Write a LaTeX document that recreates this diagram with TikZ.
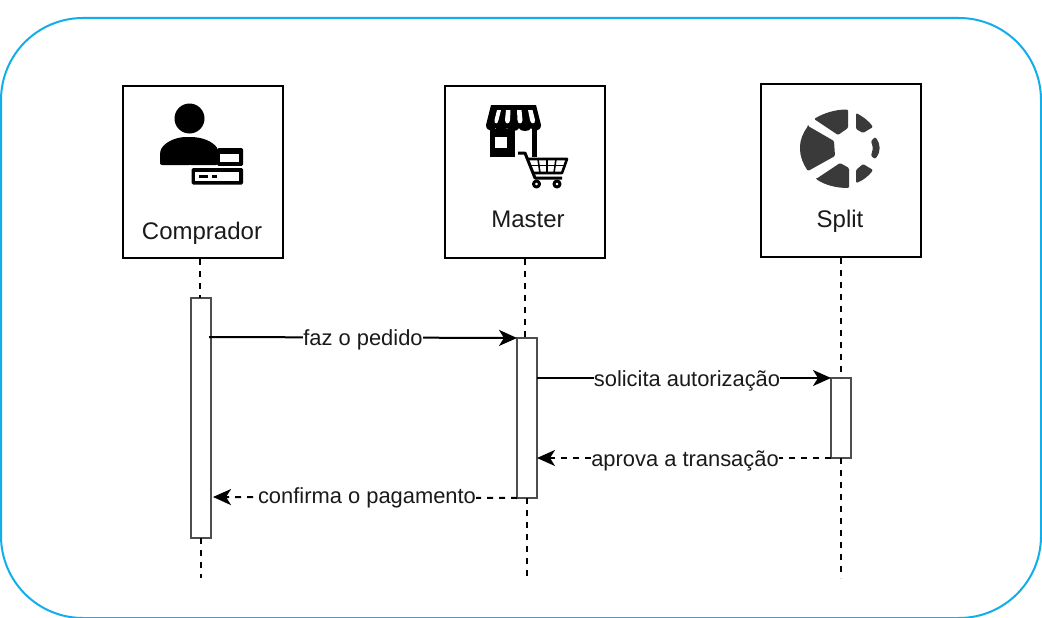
\documentclass[tikz,border=0pt]{standalone}
\usepackage{fontspec}
\setmainfont{Liberation Sans}
\usetikzlibrary{arrows.meta}
\definecolor{frameblue}{HTML}{12AEEA}
\definecolor{txt}{HTML}{1A1A1A}
\definecolor{logo}{HTML}{3A3A3A}
\definecolor{bargrey}{HTML}{4D4D4D}
\tikzset{
  actor/.style={draw=black,line width=2pt,fill=white,minimum width=160pt,inner sep=0pt,outer sep=0pt},
  actorlabel/.style={font=\fontsize{24}{24}\selectfont,text=txt,inner sep=0pt,anchor=base},
  bar/.style={draw=bargrey,line width=2pt,fill=white,minimum width=20pt,inner sep=0pt,outer sep=0pt},
  lifeline/.style={line width=2pt,dash pattern=on 6pt off 6pt},
  msg/.style={line width=2pt,-{Stealth[length=18pt,width=16pt,inset=5pt]}},
  reply/.style={msg,dash pattern=on 6pt off 6pt},
  msglabel/.style={font=\fontsize{21.9}{22}\selectfont,text=txt,fill=white,inner xsep=0pt,inner ysep=0pt,text height=16pt,text depth=4pt}
}
\begin{document}
\begin{tikzpicture}[x=1pt,y=-1pt]
\useasboundingbox (0,0) rectangle (1042,618);
\fill[white] (0,0) rectangle (1042,618);
\draw[frameblue,line width=2pt,rounded corners=82pt] (1,18) rectangle (1041,618);

% actors
\node[actor,minimum height=172pt,anchor=north west] (comprador) at (123,86) {};
\node[actor,minimum height=172pt,anchor=north west] (master) at (445,86) {};
\node[actor,minimum height=172pt,anchor=north west] (split) at (761,84.5) {};
\node[actorlabel] (lblc) at (202,239) {Comprador};
\node[actorlabel] (lblm) at (528,227) {Master};
\node[actorlabel] (lbls) at (840,227) {Split};

% activation bars
\node[bar,minimum height=240pt,anchor=north west] (barc) at (191,298) {};
\node[bar,minimum height=160pt,anchor=north west] (barm) at (517,338) {};
\node[bar,minimum height=80pt,anchor=north west] (bars) at (831,378) {};

% lifeline ends
\coordinate (ct) at (200,259);
\coordinate (cb) at (201,578);
\coordinate (mt) at (525,259);
\coordinate (mb) at (527,578);
\coordinate (st) at (841,258);
\coordinate (sb) at (841,578);
\draw[lifeline] (ct) -- (barc.north -| ct);
\draw[lifeline] (barc.south -| cb) -- (cb);
\draw[lifeline] (mt) -- (barm.north -| mt);
\draw[lifeline] (barm.south -| mb) -- (mb);
\draw[lifeline] (st) -- (bars.north -| st);
\draw[lifeline] (bars.south -| sb) -- (sb);

% messages
\coordinate (m1s) at (209,337);
\coordinate (m4e) at (213,497);
\draw[msg] (m1s) -- node[msglabel,yshift=-2pt] {faz o pedido} (barm.north west);
\draw[msg] (barm.east |- 0,378) -- node[msglabel,xshift=3pt,yshift=-2pt] {solicita autorização} (bars.north west);
\draw[reply] (bars.south west) -- node[msglabel,xshift=1pt,yshift=-2pt] {aprova a transação} (barm.east |- 0,458);
\draw[reply] (barm.south west) -- node[msglabel,xshift=2pt] {confirma o pagamento} (m4e);

% icon: buyer
\fill (189.5,118.5) circle (15);
\fill[rounded corners=2pt] (160,165) -- (160,153) .. controls (162,144) and (174,137) .. (188,137) .. controls (202,137) and (212,141) .. (218,149) -- (218,165) -- cycle;
\fill[rounded corners=1.5pt] (217,148) rectangle (243,166);
\fill[white] (219.5,153.5) rectangle (238.5,162);
\fill[white] (190,166) rectangle (244,168);
\fill[white] (188.5,165) rectangle (191,168);
\fill[rounded corners=1.5pt] (191.5,168) rectangle (243,184.5);
\fill[white] (195,171.5) rectangle (238.5,181);
\fill (199,175) rectangle (208,177.5);
\fill (212,175) rectangle (217,177.5);

% icon: store
\fill (491,105) -- (536,105) -- (541,125) .. controls (541,132) and (532,132) .. (531,128) .. controls (530,132) and (520,132) .. (519,128) .. controls (518,132) and (508,132) .. (507,128) .. controls (506,132) and (496,132) .. (495.5,128) .. controls (495,132) and (486,132) .. (486,125) -- cycle;
\fill[white] (497,110) -- (501,110) -- (498.5,120) .. controls (498,124.5) and (494,124.5) .. (494.5,120) -- cycle;
\fill[white] (506,110) -- (510.5,110) -- (510,120) .. controls (510,124.5) and (505,124.5) .. (505,120) -- cycle;
\fill[white] (517,110) -- (521.5,110) -- (522.5,120) .. controls (522.5,124.5) and (517.5,124.5) .. (517.5,120) -- cycle;
\fill[white] (528,110) -- (532.5,110) -- (535,120) .. controls (535.5,124.5) and (530.5,124.5) .. (530,120) -- cycle;
\fill (490,129) rectangle (515,157);
\fill (532,129) rectangle (537,157);
\fill[white] (495,137) rectangle (507,148);
% icon: cart
\begin{scope}[draw=black,line join=round]
\draw[line width=3pt] (518,153) -- (525,153) -- (535,178) -- (562,178);
\draw[line width=2.6pt] (527,159) -- (567,159) -- (562,173) -- (532,173);
\draw[line width=1.6pt] (529.5,165.5) -- (565,165.5);
\draw[line width=1.6pt] (538,159) -- (540,173) (547,159) -- (547,173) (556,159) -- (554,173);
\draw[line width=3pt,fill=white] (536.5,184) circle (3);
\draw[line width=3pt,fill=white] (557,184) circle (3);
\end{scope}

% icon: split logo
\begin{scope}[logo]
\fill[rounded corners=1.2pt] (814,119) .. controls (824,113) and (835,109.5) .. (848,109.5) -- (848,128) -- (838,135) -- cycle;
\fill[rounded corners=1.2pt] (808,126) -- (834,141) -- (835,156) -- (808,171) .. controls (803,164) and (800,156) .. (800,148) .. controls (800,140) and (803,133) .. (808,126) -- cycle;
\fill[rounded corners=1.2pt] (816,179) -- (840,163) -- (849,168) -- (849,188) .. controls (836,188) and (825,185) .. (816,179) -- cycle;
\fill[rounded corners=1.2pt] (856,113) .. controls (862,116) and (869,121) .. (873,127) -- (863,133) -- (856,129) -- cycle;
\fill[rounded corners=1.2pt] (875,137) .. controls (881,144) and (881,152) .. (875,159) -- (871,156) -- (873,148) -- (871,141) -- cycle;
\fill[rounded corners=1.2pt] (856,170) -- (863,164) -- (873,170) .. controls (869,176) and (862,181) .. (856,183) -- cycle;
\end{scope}
\end{tikzpicture}
\end{document}
